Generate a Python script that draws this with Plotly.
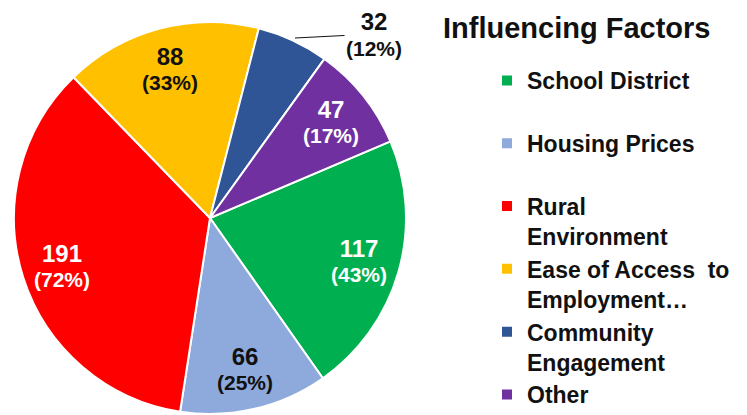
import math
import plotly.graph_objects as go

# survey data
factors = [
    "School District<br> ",
    "Housing Prices<br> ",
    "Rural<br>Environment",
    "Ease of Access  to<br>Employment…",
    "Community<br>Engagement",
    "Other",
]
counts = [117, 66, 191, 88, 32, 47]
pct_respondents = [43, 25, 72, 33, 12, 17]

colors = ["#00B050", "#8EA9DB", "#FF0000", "#FFC000", "#2F5597", "#7030A0"]
text_colors = ["white", "#111111", "white", "#111111", "#111111", "white"]

W, H = 747, 415
FONT = "Liberation Sans, Arial, sans-serif"

# pie geometry (pixels, figure coords)
CX, CY, R = 202, 210, 196
ROT = 67


def slice_text(c, p):
    return (f"<b><span style='font-size:24px'>{c}</span></b><br>"
            f"<b><span style='font-size:21px'>({p}%)</span></b>")


fig = go.Figure(
    go.Pie(
        labels=factors,
        values=counts,
        textinfo="none",
        sort=False,
        direction="clockwise",
        rotation=ROT,
        marker=dict(colors=colors, line=dict(color="white", width=2)),
        domain=dict(x=[(CX - R) / W, (CX + R) / W], y=[1 - (CY + R) / H, 1 - (CY - R) / H]),
        hovertemplate="%{label}: %{value}<extra></extra>",
    )
)

# slice labels, Excel style: placed at ~0.79 of the radius on each slice's mid angle
total = sum(counts)
cum = 0
for i, (c, p) in enumerate(zip(counts, pct_respondents)):
    mid = math.radians(ROT + (cum + c / 2) / total * 360)
    cum += c
    if i == 4:
        continue
    x = CX + 0.79 * R * math.sin(mid)
    y = CY - 0.79 * R * math.cos(mid)
    fig.add_annotation(
        x=x / W, y=1 - y / H, xref="paper", yref="paper",
        xanchor="center", yanchor="middle",
        text=slice_text(c, p), showarrow=False,
        font=dict(size=19, color=text_colors[i], family=FONT),
    )

# small slice gets its label outside, with a leader line
fig.add_annotation(
    x=287 / W, y=1 - 30 / H, xref="paper", yref="paper",
    ax=79, ay=-4,
    text=slice_text(counts[4], pct_respondents[4]),
    font=dict(size=20, color="#111111", family=FONT),
    showarrow=True, arrowhead=0, arrowwidth=1, arrowcolor="#111111",
)

fig.update_layout(
    width=W,
    height=H,
    margin=dict(l=0, r=0, t=0, b=0),
    paper_bgcolor="white",
    plot_bgcolor="white",
    font=dict(family=FONT, color="#111111"),
    title=dict(
        text="<b>Influencing Factors</b>",
        x=435 / W, xanchor="left",
        y=1 - 20 / H, yanchor="middle",
        font=dict(size=29, family=FONT, color="#111111"),
    ),
    legend=dict(
        x=479 / W, xanchor="left",
        y=1 - 51 / H, yanchor="top",
        valign="top",
        font=dict(size=23, family=FONT, color="#111111", weight="bold"),
        bgcolor="rgba(0,0,0,0)",
    ),
)

fig.write_html("out.html")
